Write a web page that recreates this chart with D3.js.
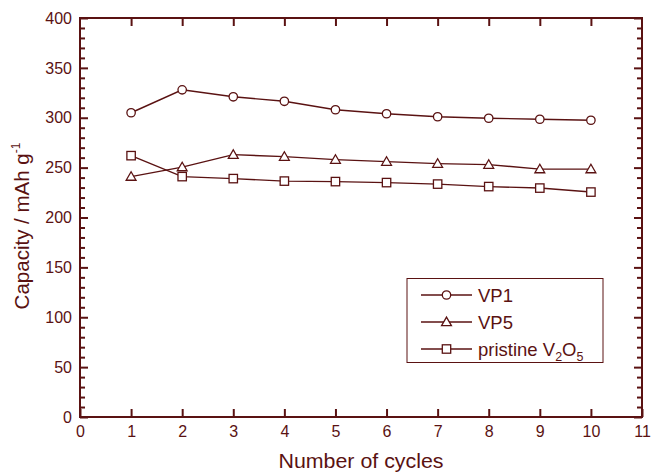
<!DOCTYPE html>
<html>
<head>
<meta charset="utf-8">
<script src="https://cdn.jsdelivr.net/npm/d3@7"></script>
<style>
  html, body { margin: 0; padding: 0; background: #fff; }
  svg { display: block; font-family: "Liberation Sans", Arial, sans-serif; }
</style>
</head>
<body>
<svg id="chart" width="653" height="472"></svg>
<script>
const cycles = [1, 2, 3, 4, 5, 6, 7, 8, 9, 10];
const vp1 = [305, 328, 321, 316.5, 308, 304, 301, 299.5, 298.5, 297.5];
const vp5 = [241, 250.5, 263, 261, 258, 256, 254, 253, 248.5, 248.5];
const pristine = [262, 241, 239, 236.5, 236, 235, 233.5, 231, 229.5, 225.5];
const seriesNames = ["VP1", "VP5", "pristine V2O5"];
const xTicks = [0, 1, 2, 3, 4, 5, 6, 7, 8, 9, 10, 11];
const yTicks = [0, 50, 100, 150, 200, 250, 300, 350, 400];

const C = "#5a1212";
const svg = d3.select("#chart");
const L = 80, R = 642, T = 18, B = 417;
const x = d3.scaleLinear().domain([0, 11]).range([L, R]);
const y = d3.scaleLinear().domain([0, 400]).range([B, T]);
const yMinor = d3.range(0, 401, 10).filter(v => v % 50 !== 0);

function styleAxis(g) {
  g.select(".domain").remove();
  g.selectAll(".tick line").attr("stroke", C).attr("stroke-width", 2);
  g.selectAll(".tick text").attr("fill", C).attr("font-size", 16)
    .attr("font-family", "Liberation Sans, Arial, sans-serif");
}

// left axis
svg.append("g").attr("transform", `translate(${L},0)`)
  .call(d3.axisLeft(y).tickValues(yTicks).tickSize(-8).tickPadding(8))
  .call(styleAxis);
svg.append("g").attr("transform", `translate(${L},0)`)
  .call(d3.axisLeft(y).tickValues(yMinor).tickSize(-5).tickFormat(""))
  .call(styleAxis);
// right axis
svg.append("g").attr("transform", `translate(${R},0)`)
  .call(d3.axisRight(y).tickValues(yTicks).tickSize(-8).tickFormat(""))
  .call(styleAxis);
svg.append("g").attr("transform", `translate(${R},0)`)
  .call(d3.axisRight(y).tickValues(yMinor).tickSize(-5).tickFormat(""))
  .call(styleAxis);
// bottom axis
svg.append("g").attr("transform", `translate(0,${B})`)
  .call(d3.axisBottom(x).tickValues(xTicks).tickSize(-8).tickPadding(9))
  .call(styleAxis);
// top axis
svg.append("g").attr("transform", `translate(0,${T})`)
  .call(d3.axisTop(x).tickValues(xTicks.slice(1, -1)).tickSize(-8).tickFormat(""))
  .call(styleAxis);

// frame
svg.append("rect").attr("x", L).attr("y", T).attr("width", R - L).attr("height", B - T)
  .attr("fill", "none").attr("stroke", C).attr("stroke-width", 2);

// series
const line = d3.line().x(d => x(d[0])).y(d => y(d[1]));
const data = [vp1, vp5, pristine];
const shapes = ["circle", "triangle", "square"];

function drawMarker(g, shape, cx, cy) {
  if (shape === "circle") {
    g.append("circle").attr("cx", cx).attr("cy", cy).attr("r", 4.2)
      .attr("fill", "#fff").attr("stroke", C).attr("stroke-width", 1.3);
  } else if (shape === "square") {
    g.append("rect").attr("x", cx - 4.2).attr("y", cy - 4.2).attr("width", 8.4).attr("height", 8.4)
      .attr("fill", "#fff").attr("stroke", C).attr("stroke-width", 1.3);
  } else {
    const s = d3.symbol().type(d3.symbolTriangle).size(42);
    g.append("path").attr("d", s()).attr("transform", `translate(${cx},${cy + 0.8})`)
      .attr("fill", "#fff").attr("stroke", C).attr("stroke-width", 1.3);
  }
}

data.forEach((vals, i) => {
  const pts = cycles.map((c, j) => [c, vals[j]]);
  svg.append("path").attr("d", line(pts)).attr("fill", "none")
    .attr("stroke", C).attr("stroke-width", 1.4);
});
data.forEach((vals, i) => {
  const g = svg.append("g");
  cycles.forEach((c, j) => drawMarker(g, shapes[i], x(c), y(vals[j])));
});

// legend
const lg = svg.append("g");
lg.append("rect").attr("x", 407).attr("y", 278.5).attr("width", 196).attr("height", 84)
  .attr("fill", "#fff").attr("stroke", C).attr("stroke-width", 1);
const rows = [295, 322, 349];
seriesNames.forEach((name, i) => {
  const ry = rows[i];
  lg.append("line").attr("x1", 421).attr("x2", 472).attr("y1", ry).attr("y2", ry)
    .attr("stroke", C).attr("stroke-width", 1.4);
  drawMarker(lg, shapes[i], 446.5, ry);
  const t = lg.append("text").attr("x", 478).attr("y", ry + 6.5)
    .attr("fill", C).attr("font-size", 18.5);
  if (i === 2) {
    t.append("tspan").text("pristine V");
    t.append("tspan").text("2").attr("font-size", 12.5).attr("dy", 5);
    t.append("tspan").text("O").attr("dy", -5);
    t.append("tspan").text("5").attr("font-size", 12.5).attr("dy", 5);
  } else {
    t.text(name);
  }
});

// axis titles
svg.append("text").attr("x", 361).attr("y", 468).attr("text-anchor", "middle")
  .attr("fill", C).attr("font-size", 19.5)
  .attr("textLength", 165).attr("lengthAdjust", "spacingAndGlyphs")
  .text("Number of cycles");

const yt = svg.append("text").attr("transform", "translate(29,226) rotate(-90)")
  .attr("text-anchor", "middle").attr("fill", C).attr("font-size", 20.5);
yt.append("tspan").text("Capacity / mAh g");
yt.append("tspan").text("-1").attr("font-size", 12).attr("dy", -9);
</script>
</body>
</html>
